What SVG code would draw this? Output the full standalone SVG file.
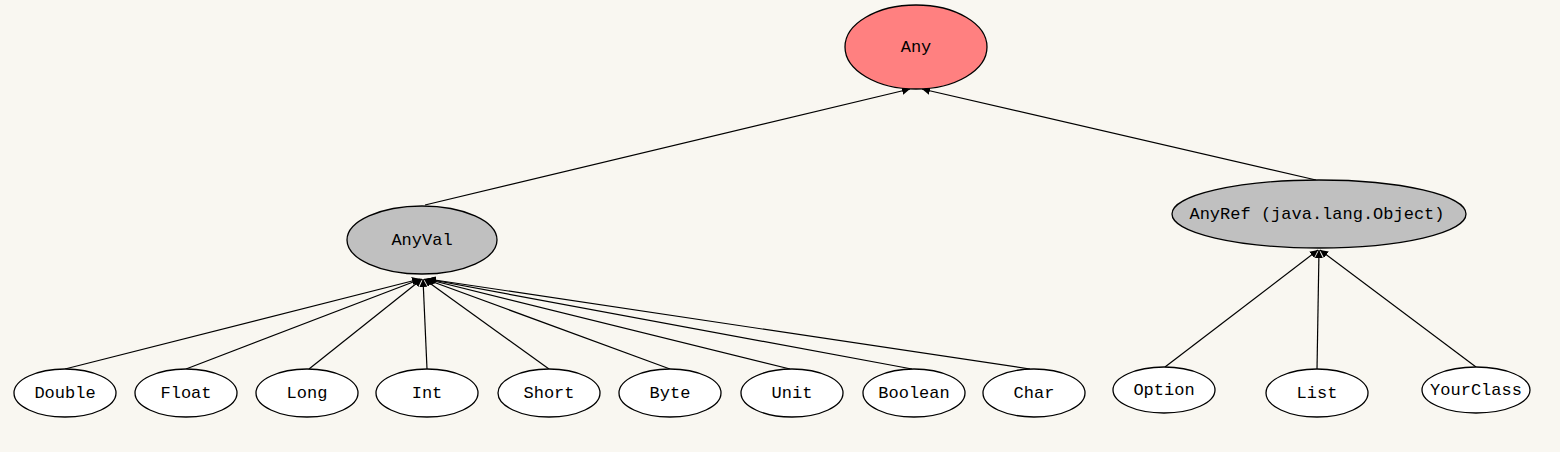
<svg xmlns="http://www.w3.org/2000/svg" width="1560" height="452" viewBox="0 0 1560 452">
<style>
.n ellipse{stroke:#000;stroke-width:1.3}
.w ellipse{fill:#fff}
.g ellipse{fill:#c0c0c0}
.r ellipse{fill:#ff8080}
text{font-family:"Liberation Mono","DejaVu Sans Mono",monospace;font-size:17px;fill:#000;text-anchor:middle;dominant-baseline:central}
#edges line{stroke:#000;stroke-width:1.2;marker-end:url(#ah)}
</style>
<defs>
<marker id="ah" viewBox="0 0 10 10" refX="10" refY="5" markerWidth="8" markerHeight="8" markerUnits="userSpaceOnUse" orient="auto">
<path d="M0,0 L10,5 L0,10 z" fill="#000"/>
</marker>
</defs>
<rect width="1560" height="452" fill="#f9f7f1"/>
<g id="edges">
<line x1="425" y1="205" x2="910" y2="89"/>
<line x1="1316" y1="180" x2="922" y2="89"/>
<line x1="65" y1="369" x2="420" y2="279"/>
<line x1="186" y1="369" x2="421" y2="279"/>
<line x1="309" y1="369" x2="422" y2="279"/>
<line x1="427" y1="369" x2="423" y2="279"/>
<line x1="549" y1="369" x2="424" y2="279"/>
<line x1="670" y1="369" x2="425" y2="279"/>
<line x1="790" y1="369" x2="426" y2="279"/>
<line x1="912" y1="369" x2="427" y2="279"/>
<line x1="1030" y1="369" x2="428" y2="279"/>
<line x1="1165" y1="367" x2="1318" y2="250"/>
<line x1="1317" y1="370" x2="1319" y2="250"/>
<line x1="1476" y1="367" x2="1320" y2="250"/>
</g>
<g id="any" class="n r"><ellipse cx="916" cy="47" rx="71" ry="42"/><text x="916" y="47">Any</text></g>
<g id="anyval" class="n g"><ellipse cx="422" cy="240" rx="75" ry="34"/><text x="422" y="240">AnyVal</text></g>
<g id="anyref" class="n g"><ellipse cx="1319" cy="214" rx="147" ry="34"/><text x="1317" y="214">AnyRef (java.lang.Object)</text></g>
<g id="double" class="n w"><ellipse cx="65" cy="393" rx="51" ry="24"/><text x="65" y="393">Double</text></g>
<g id="float" class="n w"><ellipse cx="186" cy="393" rx="51" ry="24"/><text x="186" y="393">Float</text></g>
<g id="long" class="n w"><ellipse cx="307" cy="393" rx="51" ry="24"/><text x="307" y="393">Long</text></g>
<g id="int" class="n w"><ellipse cx="427" cy="393" rx="51" ry="24"/><text x="427" y="393">Int</text></g>
<g id="short" class="n w"><ellipse cx="549" cy="393" rx="51" ry="24"/><text x="549" y="393">Short</text></g>
<g id="byte" class="n w"><ellipse cx="670" cy="393" rx="51" ry="24"/><text x="670" y="393">Byte</text></g>
<g id="unit" class="n w"><ellipse cx="792" cy="393" rx="51" ry="24"/><text x="792" y="393">Unit</text></g>
<g id="boolean" class="n w"><ellipse cx="914" cy="393" rx="51" ry="24"/><text x="914" y="393">Boolean</text></g>
<g id="char" class="n w"><ellipse cx="1034" cy="393" rx="51" ry="24"/><text x="1034" y="393">Char</text></g>
<g id="option" class="n w"><ellipse cx="1164" cy="390" rx="51" ry="23"/><text x="1164" y="390">Option</text></g>
<g id="list" class="n w"><ellipse cx="1317" cy="393" rx="51" ry="24"/><text x="1317" y="393">List</text></g>
<g id="yourclass" class="n w"><ellipse cx="1476" cy="390" rx="54" ry="23"/><text x="1476" y="390">YourClass</text></g>
</svg>
